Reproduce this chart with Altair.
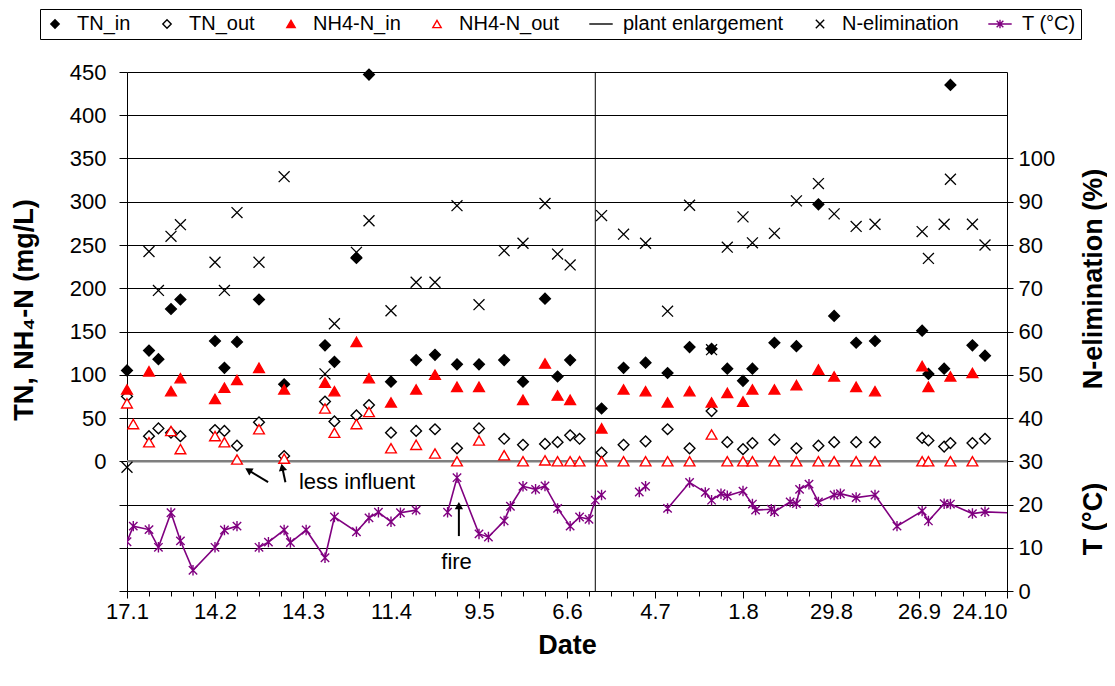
import math
from datetime import date

import altair as alt
import pandas as pd

# ---------------- data ----------------
sample_dates = ["17.1", "19.1", "24.1", "27.1", "31.1", "3.2", "14.2", "17.2", "21.2", "28.2",
                "8.3", "21.3", "24.3", "31.3", "4.4", "11.4", "19.4", "25.4", "2.5", "9.5",
                "17.5", "23.5", "30.5", "3.6", "7.6", "10.6", "17.6", "24.6", "1.7", "8.7",
                "15.7", "22.7", "27.7", "1.8", "4.8", "11.8", "18.8", "25.8", "30.8", "6.9",
                "12.9", "27.9", "29.9", "4.10", "6.10", "13.10", "17.10"]
tn_in = [105, None, 128, 118, 176, 187, 139, 108, 138, 187,
         89, 134, 115, 235, 447, 92, 117, 123, 112, 112,
         117, 92, 188, 98, 117, None, 61, 108, 114, 102,
         132, 130, 107, 93, 107, 137, 133, 297, 168, 137,
         139, 151, 101, 107, 435, 134, 122]
tn_out = [75, None, 29, 38, 33, 29, 36, 35, 18, 45,
          6, 69, 46, 53, 65, 33, 35, 37, 15, 38,
          26, 19, 20, 22, 30, 26, 10, 19, 23, 37,
          15, 58, 22, 14, 21, 25, 15, 18, 22, 22,
          22, 27, 24, 17, 21, 21, 26]
nh4_in = [83, None, 104, None, 81, 96, 72, 85, 94, 108,
          83, 91, 81, 138, 96, 68, 83, 100, 86, 86,
          None, 71, 113, 76, 71, None, 38, 83, 81, 68,
          81, 68, 79, 69, 83, 83, 88, 106, 98, 86,
          81, 110, 86, None, 98, 102, None]
nh4_out = [67, 43, 22, None, 35, 14, 29, 22, 2, 37,
           3, 61, 33, 43, 57, 15, 19, 9, 0, 24,
           7, 0, 1, 0, 0, 0, 0, 0, 0, 0,
           0, 31, 0, 0, 0, 0, 0, 0, 0, 0,
           0, 0, 0, None, 0, 0, None]
n_elim = [28.6, None, 78.5, 69.5, 82, 84.7, 76, 69.5, 87.5, 76,
          95.8, 50.2, 61.8, 78.3, 85.6, 64.8, 71.4, 71.4, 89.1, 66.2,
          78.7, 80.4, 89.6, 77.9, 75.4, None, 86.8, 82.5, 80.4, 64.7,
          89.2, 55.8, 79.5, 86.5, 80.5, 82.7, 90.2, 94.2, 87.2, 84.3,
          84.8, 83.1, 76.9, 84.8, 95.2, 84.8, 80]

t_dates = ["17.1", "19.1", "24.1", "27.1", "31.1", "3.2", "7.2", "14.2", "17.2", "21.2",
           "28.2", "3.3", "8.3", "10.3", "15.3", "21.3", "24.3", "31.3", "4.4", "7.4", "11.4", "14.4", "19.4",
           "29.4", "2.5", "9.5", "12.5", "17.5", "19.5", "23.5", "27.5", "30.5", "3.6", "7.6", "10.6", "13.6",
           "15.6", "17.6",
           "29.6", "1.7",
           "8.7", "15.7", "20.7", "22.7", "25.7", "27.7", "1.8", "4.8", "5.8", "10.8", "11.8", "16.8", "18.8",
           "19.8", "22.8", "25.8", "30.8", "1.9", "6.9", "12.9", "19.9", "27.9", "29.9", "4.10", "6.10",
           "13.10", "17.10", "3.11"]
t_values = [11.4, 15.0, 14.2, 10.1, 18.1, 11.6, 4.8, 10.1, 14.1, 15.0,
            10.1, 11.3, 14.1, 11.2, 14.1, 7.7, 17.1, 13.7, 16.9, 18.2, 16.0, 18.1, 18.7,
            18.2, 26.2, 13.2, 12.5, 16.2, 19.6, 24.2, 23.5, 24.3, 19.1, 15.0, 17.1, 16.6,
            21.0, 22.2,
            22.9, 24.2,
            19.1, 25.1, 22.8, 21.0, 22.5, 22.0, 23.1, 20.1, 18.7, 18.9, 18.3, 20.6, 20.2,
            23.5, 24.7, 20.6, 22.2, 22.5, 21.6, 22.2, 15.0, 18.5, 16.2, 20.2, 20.1,
            17.9, 18.3, 17.8]
t_runs = [1] * 10 + [2] * 13 + [3] * 15 + [4] * 2 + [5] * 28

tick_labels = ["17.1", "14.2", "14.3", "11.4", "9.5", "6.6", "4.7", "1.8", "29.8", "26.9", "24.10"]
enlargement_date = "15.6"

series_names = ["TN_in", "TN_out", "NH4-N_in", "NH4-N_out", "plant enlargement", "N-elimination", "T (°C)"]

# annotations: text positions and arrows (day offset, mg/L)
note_texts = ["less influent", "fire"]
note_days = [54.7, 100]
note_vals = [-24.2, -116]
arrow_tail_day = [44.9, 50.4, 105.6]
arrow_tail_val = [-24.2, -24.2, -86.5]
arrow_head_day = [37.4, 49.1, 105.6]
arrow_head_val = [-7.6, -1.8, -46.0]

# ---------------- helpers ----------------
START = date(2003, 1, 17)


def day(s):
    d, m = (int(p) for p in s.split("."))
    return (date(2003, m, d) - START).days


W, H = 880, 519
X_DOM = [0, 280]
YL_DOM = [-150, 450]
YR_DOM = [0, 120]
FONT = "Liberation Sans"
PURPLE = "#800080"
RED = "#ff0000"

rows = []
for name, vals in [("TN_in", tn_in), ("TN_out", tn_out), ("NH4-N_in", nh4_in), ("NH4-N_out", nh4_out)]:
    for d, v in zip(sample_dates, vals):
        if v is not None:
            rows.append({"day": day(d), "value": v, "series": name})
left_df = pd.DataFrame(rows)

elim_df = pd.DataFrame([{"day": day(d), "value": v, "series": "N-elimination"}
                        for d, v in zip(sample_dates, n_elim) if v is not None])

t_df = pd.DataFrame({"day": [day(d) for d in t_dates], "value": t_values, "run": t_runs})

# arrows
pxd = W / (X_DOM[1] - X_DOM[0])
pxv = H / (YL_DOM[1] - YL_DOM[0])
arr = []
for td, tv, hd, hv in zip(arrow_tail_day, arrow_tail_val, arrow_head_day, arrow_head_val):
    dx = (hd - td) * pxd
    dy = (hv - tv) * pxv
    L = math.hypot(dx, dy)
    ux, uy = dx / L, dy / L
    cd = hd - 4.5 * ux / pxd
    cv = hv - 4.5 * uy / pxv
    ang = math.degrees(math.atan2(ux, uy)) % 360
    arr.append({"td": td, "tv": tv, "cd": cd, "cv": cv, "ang": ang})
arrow_df = pd.DataFrame(arr)
note_df = pd.DataFrame({"day": note_days, "value": note_vals, "text": note_texts})

# ---------------- encodings ----------------
label_js = "[" + ",".join("'%s'" % s for s in tick_labels) + "]"
x_axis = alt.Axis(
    values=list(range(0, 281, 7)),
    labelExpr="datum.value %% 28 == 0 ? %s[datum.value / 28] : ''" % label_js,
    labelOverlap=False, labelFlush=False, grid=False,
    labelAlign={"condition": {"test": "datum.value >= 280", "value": "right"}, "value": "center"},
    tickSize={"condition": {"test": "datum.value % 28 == 0", "value": 7}, "value": 5},
    tickColor="black", domainColor="black", labelFontSize=22, labelPadding=3,
    title="Date", titleFontSize=27, titleFontWeight="bold", titlePadding=10,
)
x_scale = alt.Scale(domain=X_DOM, nice=False, zero=False)


def X(field="day"):
    return alt.X(f"{field}:Q", scale=x_scale, axis=x_axis)


yl_scale = alt.Scale(domain=YL_DOM, nice=False, zero=False)
yl_axis = alt.Axis(
    orient="left", values=list(range(-150, 451, 50)),
    labelExpr="datum.value < 0 ? '' : datum.label",
    grid=True, gridColor="#000000", gridWidth=1,
    tickSize=8, tickColor="black", domainColor="black",
    labelFontSize=22, labelPadding=13, title=None,
)
yr_scale = alt.Scale(domain=YR_DOM, nice=False, zero=False)
yr_axis = alt.Axis(
    orient="right", values=list(range(0, 101, 10)), grid=False,
    tickSize=6, tickColor="black", domainColor="black",
    labelFontSize=22, labelPadding=5, title=None,
)

shape_range = ["diamond", "diamond", "triangle-up", "triangle-up", "M-2.8,0L2.8,0",
               "M-1,-1L1,1M-1,1L1,-1",
               "M-2.8,0L2.8,0M-0.8,-0.8L0.8,0.8M-0.8,0.8L0.8,-0.8M0,-1L0,1"]
stroke_range = ["black", "black", RED, RED, "black", "black", PURPLE]
fill_range = ["black", "white", RED, "white", "transparent", "transparent", "transparent"]

leg = alt.Legend(title=None)
shape_enc = alt.Shape("series:N", scale=alt.Scale(domain=series_names, range=shape_range), legend=leg)
stroke_enc = alt.Stroke("series:N", scale=alt.Scale(domain=series_names, range=stroke_range), legend=leg)
fill_enc = alt.Fill("series:N", scale=alt.Scale(domain=series_names, range=fill_range), legend=leg)

# ---------------- left (mg/L) layers ----------------
zero_line = alt.Chart(pd.DataFrame({"value": [0]})).mark_rule(color="#7f7f7f", strokeWidth=2.5).encode(
    y=alt.Y("value:Q", scale=yl_scale, axis=yl_axis))
enlarge = alt.Chart(pd.DataFrame({"day": [day(enlargement_date)]})).mark_rule(color="black", strokeWidth=1).encode(
    x=X())
pts = alt.Chart(left_df).mark_point(size=115, strokeWidth=1.4, opacity=1).encode(
    x=X(), y=alt.Y("value:Q", scale=yl_scale, axis=yl_axis),
    shape=shape_enc, stroke=stroke_enc, fill=fill_enc)
arrow_lines = alt.Chart(arrow_df).mark_rule(color="black", strokeWidth=2).encode(
    x=alt.X("td:Q", scale=x_scale, axis=x_axis), x2="cd:Q",
    y=alt.Y("tv:Q", scale=yl_scale, axis=yl_axis), y2="cv:Q")
arrow_heads = alt.Chart(arrow_df).mark_point(shape="triangle-up", filled=True, size=70, color="black", opacity=1).encode(
    x=alt.X("cd:Q", scale=x_scale, axis=x_axis),
    y=alt.Y("cv:Q", scale=yl_scale, axis=yl_axis),
    angle=alt.Angle("ang:Q", scale=None))
notes = alt.Chart(note_df).mark_text(align="left", baseline="middle", fontSize=22, font=FONT, color="black").encode(
    x=X(), y=alt.Y("value:Q", scale=yl_scale, axis=yl_axis), text="text:N")
left_title = alt.Chart(pd.DataFrame({"t": ["TN, NH₄-N (mg/L)"]})).mark_text(
    angle=270, fontSize=27, fontWeight="bold", font=FONT, color="black", align="center", baseline="middle"
).encode(x=alt.value(-102), y=alt.value(238), text="t:N")

left = alt.layer(zero_line, enlarge, pts, arrow_lines, arrow_heads, notes, left_title)

# ---------------- right (% and °C) layers ----------------
elim = alt.Chart(elim_df).mark_point(size=120, strokeWidth=1.3, opacity=1).encode(
    x=X(), y=alt.Y("value:Q", scale=yr_scale, axis=yr_axis),
    shape=shape_enc, stroke=stroke_enc, fill=fill_enc)
t_line = alt.Chart(t_df).mark_line(color=PURPLE, strokeWidth=1.6, clip=True).encode(
    x=X(), y=alt.Y("value:Q", scale=yr_scale, axis=yr_axis), detail="run:N")
t_pts = alt.Chart(t_df).mark_point(
    shape="M-0.8,-0.8L0.8,0.8M-0.8,0.8L0.8,-0.8M0,-1L0,1", size=110, stroke=PURPLE, strokeWidth=1.4,
    filled=False, opacity=1, clip=True
).encode(x=X(), y=alt.Y("value:Q", scale=yr_scale, axis=yr_axis))
right_titles = alt.Chart(pd.DataFrame({"t": ["N-elimination (%)", "T (°C)"], "yy": [207, 447]})).mark_text(
    angle=270, fontSize=27, fontWeight="bold", font=FONT, color="black", align="center", baseline="middle"
).encode(x=alt.value(W + 87), y=alt.Y("yy:Q", scale=None), text="t:N")

right = alt.layer(elim, t_line, t_pts, right_titles)

chart = alt.layer(left, right).resolve_scale(y="independent").properties(
    width=W, height=H,
    padding={"left": 119, "top": 64, "right": 100, "bottom": 87},
    autosize=alt.AutoSizeParams(type="none"),
).configure(font=FONT).configure_view(stroke=None).configure_axis(
    labelFont=FONT, titleFont=FONT, labelColor="black", titleColor="black"
).configure_legend(
    orient="none", legendX=-87, legendY=-63, direction="horizontal", columns=7,
    strokeColor="black", fillColor="white", padding=5, cornerRadius=0,
    labelFont=FONT, labelFontSize=20, labelColor="black", labelOffset=12, labelLimit=0,
    symbolSize=70, symbolStrokeWidth=1.4, columnPadding=26, rowPadding=0,
)

chart.save("out.html", embed_options={"renderer": "svg", "actions": False})
